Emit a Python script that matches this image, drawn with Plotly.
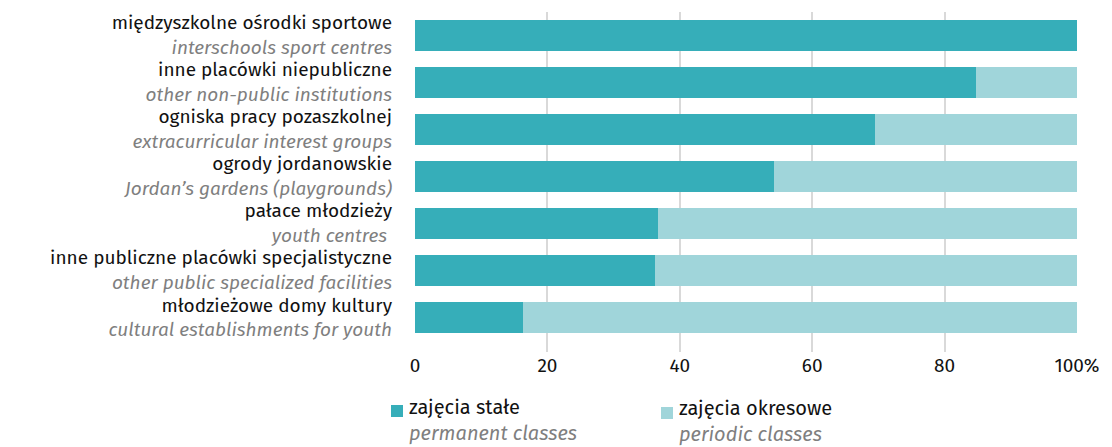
import plotly.graph_objects as go

categories_pl = [
    "międzyszkolne ośrodki sportowe",
    "inne placówki niepubliczne",
    "ogniska pracy pozaszkolnej",
    "ogrody jordanowskie",
    "pałace młodzieży",
    "inne publiczne placówki specjalistyczne",
    "młodzieżowe domy kultury",
]
categories_en = [
    "interschools sport centres",
    "other non-public institutions",
    "extracurricular interest groups",
    "Jordan’s gardens (playgrounds)",
    "youth centres ",
    "other public specialized facilities",
    "cultural establishments for youth",
]
permanent = [100.0, 84.7, 69.5, 54.3, 36.7, 36.3, 16.3]
periodic = [round(100 - v, 1) for v in permanent]
tick_vals = [0, 20, 40, 60, 80, 100]
tick_text = ["0", "20", "40", "60", "80", "100%"]
series_pl = ["zajęcia stałe", "zajęcia okresowe"]
series_en = ["permanent classes", "periodic classes"]
colors = ["#36aeb9", "#a0d5da"]

GRAY = "#7f7f7f"
FONT = "Fira Sans, Open Sans, Noto Sans, sans-serif"

labels = [f"{pl}<br><i><span style='color:{GRAY}'>{en}</span></i>"
          for pl, en in zip(categories_pl, categories_en)]

# figure geometry (page body adds 8px offset)
W, H = 1104, 439
ML, MR, MT, MB = 407, 35, 4, 95
PW, PH = W - ML - MR, H - MT - MB


def px_x(x):
    return (x - ML) / PW


def px_y(y):
    return 1 - (y - MT) / PH


fig = go.Figure()
for vals, name_pl, name_en, col in zip([permanent, periodic], series_pl, series_en, colors):
    fig.add_trace(go.Bar(
        y=labels, x=vals, orientation="h",
        name=f"{name_pl}<br><i><span style='color:{GRAY}'>{name_en}</span></i>",
        marker=dict(color=col, line=dict(width=0)),
        showlegend=False,
    ))

# manual legend (squares + two-line text)
legend_pos = [(383, 397, 399, 412), (653, 399, 669, 413)]
for (sx, sy, tx, ty), name_pl, name_en, col in zip(legend_pos, series_pl, series_en, colors):
    fig.add_shape(type="rect", xref="paper", yref="paper",
                  x0=px_x(sx), x1=px_x(sx + 12), y0=px_y(sy + 12), y1=px_y(sy),
                  fillcolor=col, line=dict(width=0))
    fig.add_annotation(
        xref="paper", yref="paper", x=px_x(tx), y=px_y(ty),
        xanchor="left", yanchor="middle", align="left", showarrow=False,
        text=f"{name_pl}<br><i><span style='color:{GRAY}'>{name_en}</span></i>",
        font=dict(family=FONT, size=20, color="#111111"),
    )

fig.update_layout(
    barmode="stack",
    bargap=0.34,
    width=W, height=H,
    margin=dict(l=ML, r=MR, t=MT, b=MB, autoexpand=False),
    paper_bgcolor="white", plot_bgcolor="white",
    font=dict(family=FONT, size=19, color="#111111"),
    showlegend=False,
    xaxis=dict(
        range=[0, 100], tickvals=tick_vals, ticktext=tick_text,
        showgrid=True, gridcolor="#d9d9d9", gridwidth=2,
        zeroline=False, showline=False, ticks="", ticklen=0,
        tickfont=dict(size=19, color="#111111"), fixedrange=True,
    ),
    yaxis=dict(
        range=[6.74, -0.49], showgrid=False, ticks="", ticklen=0,
        tickfont=dict(size=19, color="#111111"), showline=False,
        fixedrange=True, ticklabelstandoff=22, automargin=False,
    ),
)

fig.write_html("out.html")
